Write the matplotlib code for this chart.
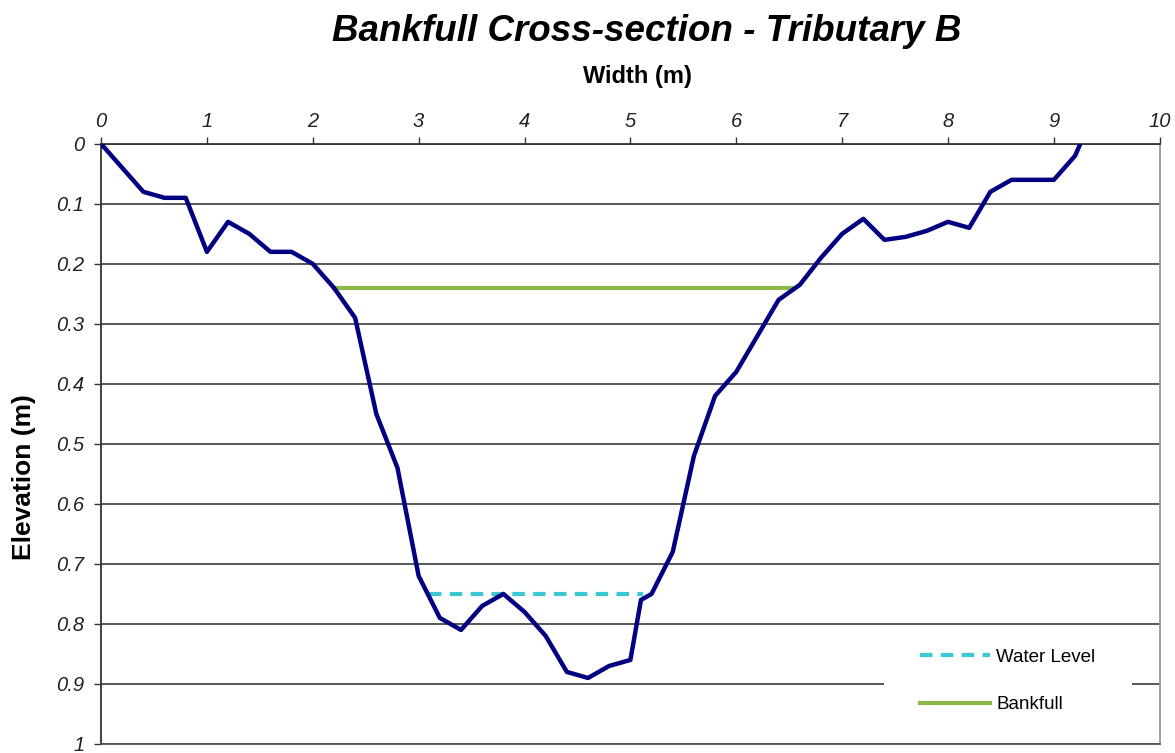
import matplotlib.pyplot as plt
from matplotlib.patches import Rectangle

# Cross-section survey points (width m, depth below datum m)
width = [0.0, 0.2, 0.4, 0.6, 0.8, 1.0, 1.2, 1.4, 1.6, 1.8, 2.0, 2.2, 2.4, 2.6, 2.8,
         3.0, 3.2, 3.4, 3.6, 3.8, 4.0, 4.2, 4.4, 4.6, 4.8, 5.0, 5.1, 5.2, 5.4, 5.6,
         5.8, 6.0, 6.2, 6.4, 6.6, 6.8, 7.0, 7.2, 7.4, 7.6, 7.8, 8.0, 8.2, 8.4, 8.6,
         8.8, 9.0, 9.2, 9.25]
depth = [0.0, 0.04, 0.08, 0.09, 0.09, 0.18, 0.13, 0.15, 0.18, 0.18, 0.20, 0.24, 0.29, 0.45, 0.54,
         0.72, 0.79, 0.81, 0.77, 0.75, 0.78, 0.82, 0.88, 0.89, 0.87, 0.86, 0.76, 0.75, 0.68, 0.52,
         0.42, 0.38, 0.32, 0.26, 0.235, 0.19, 0.15, 0.125, 0.16, 0.155, 0.145, 0.13, 0.14, 0.08, 0.06,
         0.06, 0.06, 0.02, 0.0]

water_x = [3.1, 5.12]
water_y = [0.75, 0.75]
bank_x = [2.2, 6.55]
bank_y = [0.24, 0.24]

plt.rcParams['font.family'] = ['Liberation Sans', 'DejaVu Sans']

fig = plt.figure(figsize=(11.75, 7.53), dpi=100)
ax = fig.add_axes([0.086, 0.012, 0.901, 0.797])

ax.plot(width, depth, color='#000080', lw=3.2, zorder=3)
ax.plot(water_x, water_y, color='#3CC8D2', lw=3.0, ls=(0, (3, 2)), label='Water Level', zorder=2)
ax.plot(bank_x, bank_y, color='#8DB84A', lw=3.0, label='Bankfull', zorder=2)

ax.set_xlim(0, 10)
ax.set_ylim(1, 0)
ax.set_xticks(range(0, 11))
ax.set_yticks([i / 10 for i in range(11)])
ax.set_yticklabels(['%g' % (i / 10) for i in range(11)])
ax.xaxis.tick_top()
ax.xaxis.set_label_position('top')
ax.tick_params(axis='both', labelsize=14.5, length=5, width=1, color='#333333', pad=4)
ax.tick_params(axis='y', pad=7)
for lab in ax.get_xticklabels() + ax.get_yticklabels():
    lab.set_fontstyle('italic')
    lab.set_color('#222222')

ax.yaxis.grid(True, color='#4a4a4a', lw=1.3)
ax.set_axisbelow(True)

ax.spines['left'].set_color('#333333')
ax.spines['top'].set_color('#333333')
ax.spines['right'].set_color('#999999')
ax.spines['bottom'].set_color('#555555')
for s in ax.spines.values():
    s.set_linewidth(1.3)

ax.set_xlabel('Width (m)', fontsize=17, fontweight='bold')
ax.xaxis.set_label_coords(0.507, 1.112)
ax.xaxis.label.set_verticalalignment('center')
ax.set_ylabel('Elevation (m)', fontsize=19, fontweight='bold')
ax.yaxis.set_label_coords(-0.073, 0.445)
ax.yaxis.label.set_verticalalignment('center')

fig.text(0.55, 0.958, 'Bankfull Cross-section - Tributary B', fontsize=26.5, fontweight='bold',
         fontstyle='italic', ha='center', va='center')

# white area behind legend
ax.add_patch(Rectangle((0.74, 0.005), 0.234, 0.18, transform=ax.transAxes,
                       facecolor='white', edgecolor='none', zorder=1))
ax.legend(loc='center left', bbox_to_anchor=(0.774, 0.105), frameon=False, fontsize=13.5,
          handlelength=3.7, handletextpad=0.35, labelspacing=1.6, borderpad=0, borderaxespad=0)

fig.savefig('out.png', dpi=100)
